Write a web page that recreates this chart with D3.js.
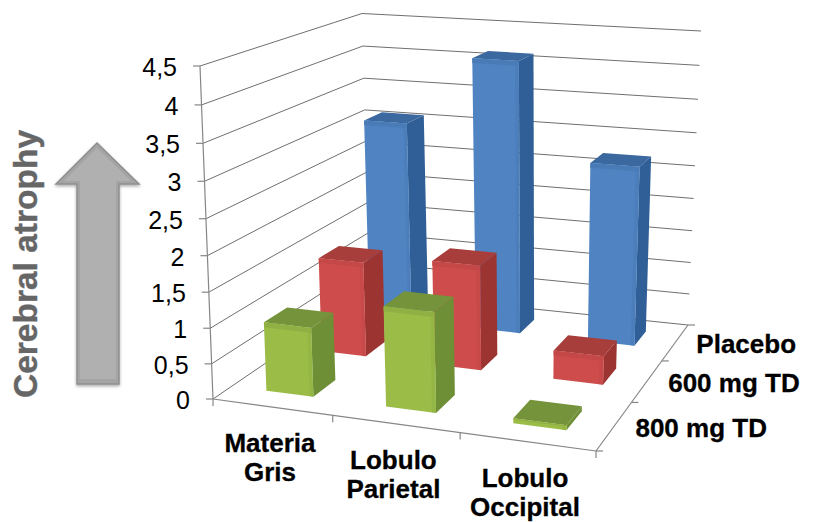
<!DOCTYPE html>
<html>
<head>
<meta charset="utf-8">
<script src="https://cdn.jsdelivr.net/npm/d3@7"></script>
<style>
html,body{margin:0;padding:0;background:#fff;overflow:hidden}
svg{display:block}
text{font-family:"Liberation Sans",Arial,sans-serif}
</style>
</head>
<body>
<svg id="chart" width="813" height="522"></svg>
<script>
const categories = ["Materia Gris", "Lobulo Parietal", "Lobulo Occipital"];
const seriesNames = ["800 mg TD", "600 mg TD", "Placebo"];
const td800 = [0.98, 1.4, 0.07];
const td600 = [1.41, 1.54, 0.42];
const placebo = [3.09, 4.12, 2.71];
const yTicks = [0, 0.5, 1, 1.5, 2, 2.5, 3, 3.5, 4, 4.5];
const yTickLabels = ["0", "0,5", "1", "1,5", "2", "2,5", "3", "3,5", "4", "4,5"];
const axisTitle = "Cerebral atrophy";

const seriesValues = [td800, td600, placebo];
const palette = [
  {front: "#9BBD48", side: "#6F8F36", top: "#75933A"},
  {front: "#CE4C4B", side: "#9C3432", top: "#A83E3C"},
  {front: "#4F83C1", side: "#2F5F96", top: "#3A689F"}
];

// Maps the unit square onto a screen quadrilateral (front-left, front-right, back-right, back-left).
function quadMap(p0, p1, p2, p3) {
  const dx1 = p1[0] - p2[0], dx2 = p3[0] - p2[0], sx = p0[0] - p1[0] + p2[0] - p3[0];
  const dy1 = p1[1] - p2[1], dy2 = p3[1] - p2[1], sy = p0[1] - p1[1] + p2[1] - p3[1];
  const det = dx1 * dy2 - dx2 * dy1;
  const g = (sx * dy2 - dx2 * sy) / det, h = (dx1 * sy - sx * dy1) / det;
  const a = p1[0] - p0[0] + g * p1[0], b = p3[0] - p0[0] + h * p3[0], c = p0[0];
  const d = p1[1] - p0[1] + g * p1[1], e = p3[1] - p0[1] + h * p3[1], f = p0[1];
  return (u, w) => {
    const k = g * u + h * w + 1;
    return [(a * u + b * w + c) / k, (d * u + e * w + f) / k];
  };
}

const floorMap = quadMap([213, 399], [596, 451], [688, 325], [370, 292]);
const ceilMap = quadMap([200, 66], [606, 97], [701, 31], [362, 13.5]);

const y = d3.scaleLinear().domain([0, 4.5]).range([0, 1]);
const xBand = d3.scaleBand().domain(categories).range([0, 1]).paddingInner(0.6).paddingOuter(0.3);
const zBand = d3.scaleBand().domain(seriesNames).range([0, 1]).paddingInner(0.6).paddingOuter(0.3);

// Height foreshortening: equal value steps shrink slightly toward the floor.
const persp = 18;
function project(u, value, w) {
  const a = floorMap(u, w), b = ceilMap(u, w), s = y(value);
  const t = s * (persp - 1) / (persp - s);
  return [a[0] + (b[0] - a[0]) * t, a[1] + (b[1] - a[1]) * t];
}

const svg = d3.select("#chart");
const poly = pts => pts.map(p => p.map(v => v.toFixed(2)).join(",")).join(" ");
const segment = (g, a, b, stroke, width) => g.append("line")
  .attr("x1", a[0]).attr("y1", a[1]).attr("x2", b[0]).attr("y2", b[1])
  .attr("stroke", stroke).attr("stroke-width", width);

const defs = svg.append("defs");
const shadow = defs.append("filter").attr("id", "soft").attr("x", "-20%").attr("y", "-20%").attr("width", "140%").attr("height", "140%");
shadow.append("feDropShadow").attr("dx", 0).attr("dy", 1.5).attr("stdDeviation", 1.5)
  .attr("flood-color", "#000").attr("flood-opacity", 0.35);

// Wall gridlines run from the left axis to the back corner, then across the back wall.
const grid = svg.append("g");
const gridColor = "#6f6f6f";
yTicks.forEach(v => {
  const fl = project(0, v, 0), bl = project(0, v, 1), br = project(1, v, 1);
  segment(grid, fl, bl, gridColor, 1);
  segment(grid, bl, br, gridColor, 1);
});

// Axis lines and tick marks
const axes = svg.append("g");
const axisColor = "#868686";
segment(axes, project(0, 0, 0), project(0, 4.5, 0), axisColor, 1.2);
segment(axes, floorMap(0, 0), floorMap(1, 0), axisColor, 1.2);
segment(axes, floorMap(1, 0), floorMap(1, 1), axisColor, 1.2);
yTicks.forEach(v => {
  const p = project(0, v, 0);
  segment(axes, p, [p[0] - 7, p[1]], axisColor, 1.2);
});
d3.range(0, categories.length + 1).forEach(i => {
  const p = floorMap(i / categories.length, 0);
  segment(axes, p, [p[0], p[1] + 7], axisColor, 1.2);
});
d3.range(0, seriesNames.length + 1).forEach(i => {
  const p = floorMap(1, i / seriesNames.length);
  segment(axes, p, [p[0] + 7, p[1]], axisColor, 1.2);
});

// Value axis labels
svg.append("g").selectAll("text").data(yTicks).join("text")
  .attr("text-anchor", "end")
  .attr("font-size", 25)
  .attr("fill", "#000")
  .attr("x", v => project(0, v, 0)[0] - 23)
  .attr("y", v => project(0, v, 0)[1] + 10)
  .text((v, i) => yTickLabels[i]);

// Bars are painted from the back row forward; each front face carries thin bevel strips.
const bars = svg.append("g");
seriesNames.map((s, i) => i).reverse().forEach(si => {
  const z0 = zBand(seriesNames[si]), z1 = z0 + zBand.bandwidth();
  categories.forEach((c, ci) => {
    const v = seriesValues[si][ci], col = palette[si];
    const x0 = xBand(c), x1 = x0 + xBand.bandwidth();
    const g = bars.append("g");
    g.append("polygon").attr("fill", col.side)
      .attr("points", poly([project(x1, 0, z0), project(x1, 0, z1), project(x1, v, z1), project(x1, v, z0)]));
    g.append("polygon").attr("fill", col.top)
      .attr("points", poly([project(x0, v, z0), project(x1, v, z0), project(x1, v, z1), project(x0, v, z1)]));
    g.append("polygon").attr("fill", col.front)
      .attr("points", poly([project(x0, 0, z0), project(x1, 0, z0), project(x1, v, z0), project(x0, v, z0)]));
    const dv = Math.min(0.07, v / 3), du = xBand.bandwidth() * 0.08;
    const strip = d3.interpolateRgb(col.front, col.top)(0.3);
    g.append("polygon").attr("fill", strip)
      .attr("points", poly([project(x0, v - dv, z0), project(x1, v - dv, z0), project(x1, v, z0), project(x0, v, z0)]));
    g.append("polygon").attr("fill", strip).attr("opacity", 0.6)
      .attr("points", poly([project(x1 - du, 0, z0), project(x1, 0, z0), project(x1, v - dv, z0), project(x1 - du, v - dv, z0)]));
  });
});

// Category labels under the front edge
const catLabels = svg.append("g");
categories.forEach(c => {
  const p = floorMap(xBand(c) + xBand.bandwidth() / 2, 0);
  const t = catLabels.append("text")
    .attr("text-anchor", "middle").attr("font-size", 26).attr("font-weight", "bold").attr("fill", "#000")
    .attr("stroke", "#000").attr("stroke-width", 0.3);
  c.split(" ").forEach((word, i) => {
    t.append("tspan").attr("x", p[0] - 2).attr("y", p[1] + 45 + i * 29).text(word);
  });
});

// Series labels beside the right edge
svg.append("g").selectAll("text").data(seriesNames).join("text")
  .attr("font-size", 26).attr("font-weight", "bold").attr("fill", "#000")
  .attr("stroke", "#000").attr("stroke-width", 0.3)
  .attr("x", s => floorMap(1, zBand(s) + zBand.bandwidth() / 2)[0] + 21)
  .attr("y", s => floorMap(1, zBand(s) + zBand.bandwidth() / 2)[1] + 11)
  .text(s => s);

// Rising arrow with a lighter inner bevel, and its caption
const arrowPts = [[97, 143], [139, 184], [119, 184], [119, 384], [77, 384], [77, 184], [56, 184]];
const arrowInner = [[97, 148], [131, 181], [116, 181], [116, 379], [80, 379], [80, 181], [64, 181]];
svg.append("polygon")
  .attr("points", arrowPts.join(" "))
  .attr("fill", "#A4A4A4").attr("stroke", "#8F8F8F").attr("stroke-width", 1.5)
  .attr("filter", "url(#soft)");
svg.append("polygon")
  .attr("points", arrowInner.join(" "))
  .attr("fill", "#B0B0B0");

svg.append("text")
  .attr("transform", "translate(37,264) rotate(-90)")
  .attr("text-anchor", "middle")
  .attr("font-size", 33.5).attr("font-weight", "bold").attr("fill", "#666")
  .attr("stroke", "#666").attr("stroke-width", 0.4)
  .text(axisTitle);
</script>
</body>
</html>
